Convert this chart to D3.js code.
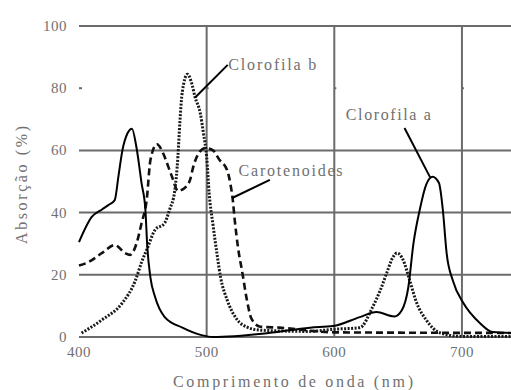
<!DOCTYPE html>
<html>
<head>
<meta charset="utf-8">
<script src="https://cdn.jsdelivr.net/npm/d3@7"></script>
<style>
  body { margin: 0; background: #fff; }
  text { font-family: "Liberation Serif", "DejaVu Serif", serif; fill: #707070; }
</style>
</head>
<body>
<svg id="chart" width="511" height="390"></svg>
<script>
// absorption spectra (nm, %)
var chlA_nm  = [400, 410, 418, 423, 428, 431, 434, 438, 441.5, 445, 449, 452, 453.5, 456, 459.5, 467, 481, 496, 505, 547, 581, 599, 620, 633, 647, 653, 658, 662, 667, 672, 677, 682, 685, 688, 693, 701, 714, 724, 740];
var chlA_val = [30.5, 38.6, 41, 42.4, 44, 52, 60, 65.5, 67, 61, 49.5, 41, 29, 19, 13, 6.5, 3, 0.6, 0, 1.2, 3, 3.5, 6.4, 8, 6.6, 8.7, 16, 30, 41, 49, 51.5, 49.5, 41, 27, 18, 11, 4.5, 1.6, 1.3];

var chlB_nm  = [402, 418, 434, 444, 449, 454, 459.5, 467, 471, 475, 477.5, 479, 481, 485, 488, 491, 495, 497.5, 500, 502, 505, 508, 511, 516, 524, 531, 542, 580, 600, 620, 630, 636, 641, 646, 649, 654, 659, 664.5, 672, 683, 700, 740];
var chlB_val = [1.3, 5.5, 11, 18, 24, 29, 34.4, 36.6, 41, 47, 58, 69, 79, 84.5, 82, 77, 72, 65.5, 58, 46, 36, 27, 19, 12, 5.5, 3.3, 2.2, 1.8, 2.5, 3, 9.6, 15, 20.5, 25.7, 27, 24.7, 18.3, 11, 5.5, 1.3, 0.2, 0.2];

var car_nm  = [400, 407, 418, 428, 436, 440, 445, 449, 453, 456, 461, 466, 470, 473, 477.5, 483, 487, 489.5, 493, 499, 505, 510, 516, 518.5, 520.5, 522, 524.5, 528, 531.5, 535, 542, 557, 600, 740];
var car_val = [23, 24, 27, 29.6, 27, 26.4, 30, 36.6, 44, 57, 62, 59, 54.7, 51.4, 47, 48, 50.5, 54.7, 58.5, 60.8, 60, 57, 53.7, 49.5, 44, 37.6, 29, 20.6, 12, 6, 3.3, 3, 1.5, 1.3];

var xTicks = [400, 500, 600, 700];
var yTicks = [0, 20, 40, 60, 80, 100];
var yGrid = [0, 20, 40, 60, 100];

// labels: [text, label x nm, label y %, line from nm, from %, to nm, to %]
var labels = [
  ["Clorofila b", 517, 87.5, 516.5, 87.5, 491, 77],
  ["Carotenoides", 525, 53.5, 549.5, 50.5, 520, 44.7],
  ["Clorofila a", 609, 71.5, 655, 67.2, 675, 51.4]
];
var labelWidths = [88, 104, 85];

var svg = d3.select("#chart");

var x = d3.scaleLinear().domain([400, 740]).range([79, 513]);
var y = d3.scaleLinear().domain([0, 100]).range([337, 26]);

// grid
svg.selectAll(".hgrid").data(yGrid).enter().append("line")
    .attr("x1", x(400)).attr("x2", 511)
    .attr("y1", function(d) { return y(d); }).attr("y2", function(d) { return y(d); })
    .attr("stroke", "#6b6b6b").attr("stroke-width", 2);

svg.selectAll(".vgrid").data(xTicks.slice(1)).enter().append("line")
    .attr("x1", function(d) { return x(d); }).attr("x2", function(d) { return x(d); })
    .attr("y1", y(100)).attr("y2", y(0))
    .attr("stroke", "#6b6b6b").attr("stroke-width", 2);

// little tick where the 80 line would be
svg.append("line").attr("x1", x(400)).attr("x2", x(400) + 3)
    .attr("y1", y(80)).attr("y2", y(80)).attr("stroke", "#6b6b6b").attr("stroke-width", 2);
xTicks.slice(1).forEach(function(t) {
    svg.append("line").attr("x1", x(t)).attr("x2", x(t) + 2)
        .attr("y1", y(80)).attr("y2", y(80)).attr("stroke", "#6b6b6b").attr("stroke-width", 2);
});

// tick labels
svg.selectAll(".ylab").data(yTicks).enter().append("text")
    .attr("x", 67).attr("y", function(d) { return y(d) + 5; })
    .attr("text-anchor", "end").attr("font-size", 15)
    .attr("letter-spacing", 0.5)
    .text(function(d) { return d; });

svg.selectAll(".xlab").data(xTicks).enter().append("text")
    .attr("x", function(d) { return x(d); }).attr("y", 357)
    .attr("text-anchor", "middle").attr("font-size", 15)
    .attr("letter-spacing", 0.5)
    .text(function(d) { return d; });

// axis titles
svg.append("text").attr("x", 293).attr("y", 387)
    .attr("text-anchor", "middle").attr("font-size", 16)
    .attr("textLength", 240).attr("lengthAdjust", "spacing")
    .text("Comprimento de onda (nm)");

svg.append("text")
    .attr("transform", "translate(27,185) rotate(-90)")
    .attr("text-anchor", "middle").attr("font-size", 16)
    .attr("textLength", 118).attr("lengthAdjust", "spacing")
    .text("Absorção (%)");

// curves
function pts(xs, ys) { return xs.map(function(v, i) { return [v, ys[i]]; }); }

var line = d3.line()
    .x(function(d) { return x(d[0]); })
    .y(function(d) { return y(d[1]); })
    .curve(d3.curveMonotoneX);

svg.append("path").datum(pts(car_nm, car_val))
    .attr("d", line).attr("fill", "none")
    .attr("stroke", "#111").attr("stroke-width", 2.6)
    .attr("stroke-dasharray", "7,4");

svg.append("path").datum(pts(chlB_nm, chlB_val))
    .attr("d", line).attr("fill", "none")
    .attr("stroke", "#1a1a1a").attr("stroke-width", 3)
    .attr("stroke-dasharray", "2,1.5");

svg.append("path").datum(pts(chlA_nm, chlA_val))
    .attr("d", line).attr("fill", "none")
    .attr("stroke", "#000").attr("stroke-width", 2);

// annotations
labels.forEach(function(l, i) {
    svg.append("line")
        .attr("x1", x(l[3])).attr("y1", y(l[4]))
        .attr("x2", x(l[5])).attr("y2", y(l[6]))
        .attr("stroke", "#000").attr("stroke-width", 2);
    svg.append("text")
        .attr("x", x(l[1])).attr("y", y(l[2]) + 5)
        .attr("font-size", 16)
        .attr("textLength", labelWidths[i]).attr("lengthAdjust", "spacing")
        .text(l[0]);
});
</script>
</body>
</html>
